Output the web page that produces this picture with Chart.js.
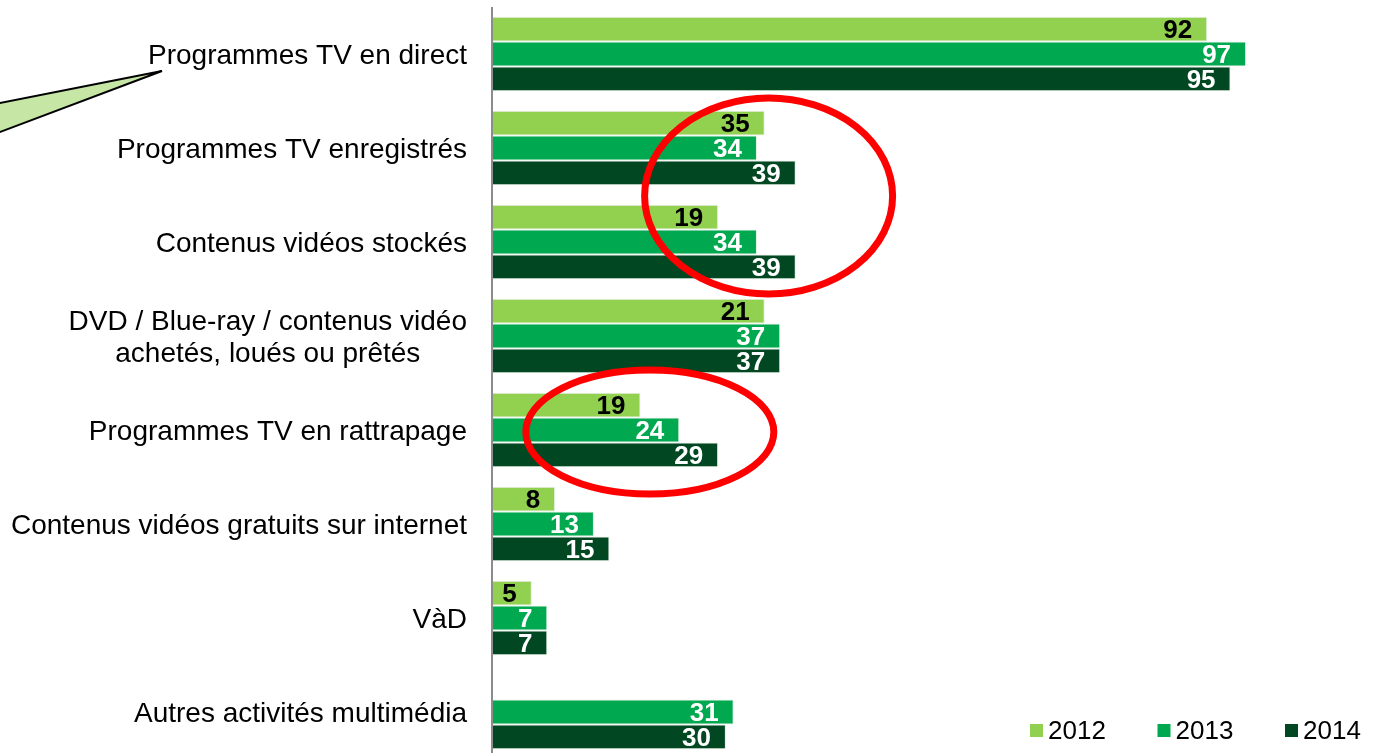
<!DOCTYPE html>
<html>
<head>
<meta charset="utf-8">
<script src="https://cdn.jsdelivr.net/npm/chart.js@4.4.1/dist/chart.umd.min.js"></script>
<style>
    html, body { margin: 0; padding: 0; background: #ffffff; overflow: hidden; }
    #wrap { position: absolute; left: 0; top: 0; width: 1381px; height: 762px; }
</style>
</head>
<body>
<div id="wrap"><canvas id="chartUsages"></canvas></div>
<script>
const categories = [
    ['Programmes TV en direct'],
    ['Programmes TV enregistrés'],
    ['Contenus vidéos stockés'],
    ['DVD / Blue-ray / contenus vidéo', 'achetés, loués ou prêtés'],
    ['Programmes TV en rattrapage'],
    ['Contenus vidéos gratuits sur internet'],
    ['VàD'],
    ['Autres activités multimédia']
];
const years = ['2012', '2013', '2014'];

// bar lengths as drawn in the picture
const values2012 = [92, 35, 29, 35, 19, 8, 5, null];
const values2013 = [97, 34, 34, 37, 24, 13, 7, 31];
const values2014 = [95, 39, 39, 37, 29, 15, 7, 30];

// numbers printed on the bars (two 2012 labels differ from their bar length)
const labels2012 = ['92', '35', '19', '21', '19', '8', '5', ''];
const labels2013 = ['97', '34', '34', '37', '24', '13', '7', '31'];
const labels2014 = ['95', '39', '39', '37', '29', '15', '7', '30'];

const colors = ['#92d050', '#00a84f', '#004722'];
const labelColors = ['#000000', '#ffffff', '#ffffff'];
const FONT = '"Liberation Sans", Arial, sans-serif';

const valueLabels = [labels2012, labels2013, labels2014];

const decorPlugin = {
    id: 'decor',
    afterDatasetsDraw(chart) {
        const ctx = chart.ctx;
        const x = chart.scales.x;
        const y = chart.scales.y;
        const area = chart.chartArea;

        // axis line
        ctx.save();
        ctx.strokeStyle = '#8c8c8c';
        ctx.lineWidth = 2;
        ctx.beginPath();
        ctx.moveTo(area.left - 1, area.top);
        ctx.lineTo(area.left - 1, chart.height);
        ctx.stroke();

        // value labels, inside end
        ctx.font = 'bold 26px ' + FONT;
        ctx.textAlign = 'right';
        ctx.textBaseline = 'middle';
        chart.data.datasets.forEach((ds, i) => {
            const meta = chart.getDatasetMeta(i);
            meta.data.forEach((bar, j) => {
                const txt = valueLabels[i][j];
                if (!txt) return;
                ctx.fillStyle = labelColors[i];
                ctx.fillText(txt, bar.x - 15, bar.y + 2);
            });
        });

        // category labels
        ctx.fillStyle = '#000000';
        ctx.font = '28px ' + FONT;
        categories.forEach((lines, j) => {
            const cy = y.getPixelForValue(j) + 2;
            const right = area.left - 26;
            if (lines.length === 1) {
                ctx.textAlign = 'right';
                ctx.fillText(lines[0], right, cy);
            } else {
                const w = Math.max(...lines.map(l => ctx.measureText(l).width));
                const lh = 32;
                ctx.textAlign = 'center';
                lines.forEach((l, k) => {
                    ctx.fillText(l, right - w / 2, cy + (k - (lines.length - 1) / 2) * lh);
                });
            }
        });

        // red highlight ellipses
        ctx.strokeStyle = '#ff0000';
        ctx.lineWidth = 7;
        ctx.beginPath();
        ctx.ellipse(x.getPixelForValue(35.5), (y.getPixelForValue(1) + y.getPixelForValue(2)) / 2 + 1, 124, 98, 0, 0, Math.PI * 2);
        ctx.stroke();
        ctx.beginPath();
        ctx.ellipse(x.getPixelForValue(20.2), y.getPixelForValue(4) + 2, 124, 62, 0, 0, Math.PI * 2);
        ctx.stroke();

        // callout pointer
        ctx.fillStyle = '#c6e6a6';
        ctx.strokeStyle = '#000000';
        ctx.lineWidth = 2;
        ctx.beginPath();
        ctx.moveTo(162, 71);
        ctx.lineTo(-8, 104.5);
        ctx.lineTo(-8, 135);
        ctx.closePath();
        ctx.fill();
        ctx.stroke();

        // legend
        ctx.font = '26px ' + FONT;
        ctx.textAlign = 'left';
        years.forEach((yr, i) => {
            const lx = 1030 + i * 127.5;
            ctx.fillStyle = colors[i];
            ctx.fillRect(lx, 724, 13, 13);
            ctx.fillStyle = '#000000';
            ctx.fillText(yr, lx + 18, 732);
        });
        ctx.restore();
    }
};

new Chart(document.getElementById('chartUsages'), {
    type: 'bar',
    data: {
        labels: categories,
        datasets: [values2012, values2013, values2014].map((vals, i) => ({
            label: years[i],
            data: vals,
            backgroundColor: colors[i],
            borderColor: 'rgba(220,235,220,0.8)',
            borderWidth: 1,
            borderSkipped: 'left',
            categoryPercentage: 0.79,
            barPercentage: 1
        }))
    },
    options: {
        indexAxis: 'y',
        responsive: true,
        maintainAspectRatio: false,
        animation: false,
        layout: { padding: { left: 493, right: 34, top: 7, bottom: 3 } },
        plugins: {
            legend: { display: false },
            tooltip: { enabled: false }
        },
        scales: {
            x: { display: false, min: 0, max: 110 },
            y: { display: false }
        }
    },
    plugins: [decorPlugin]
});
</script>
</body>
</html>
